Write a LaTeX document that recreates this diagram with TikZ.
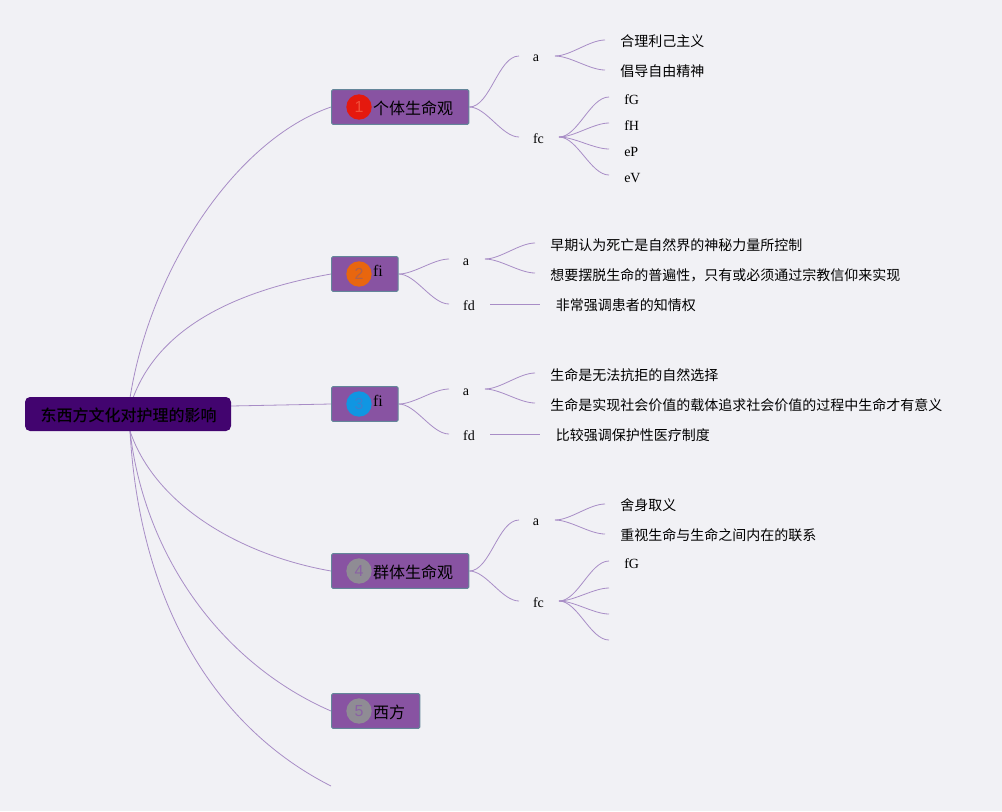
\documentclass[tikz,border=0pt]{standalone}
\usepackage{fontspec}
\setmainfont{Liberation Serif}
\newfontfamily\cjk{Noto Sans CJK SC}
\newfontfamily\cjkb{Noto Sans CJK SC Medium}
\newfontfamily\numf{Liberation Sans}
\usetikzlibrary{backgrounds}
\definecolor{bgc}{HTML}{F1F1F5}
\definecolor{lnk}{HTML}{A88DC6}
\definecolor{boxf}{HTML}{8853A2}
\definecolor{boxd}{HTML}{64869A}
\definecolor{rootf}{HTML}{42046F}
\definecolor{cr}{HTML}{E5190E}\definecolor{cr2}{HTML}{F0503A}
\definecolor{co}{HTML}{E8660E}\definecolor{co2}{HTML}{B0604A}
\definecolor{cb}{HTML}{1096E2}\definecolor{cb2}{HTML}{3A80D0}
\definecolor{cg}{HTML}{8F8C94}\definecolor{cg2}{HTML}{8A62A4}
\tikzset{
  x=0.75pt,y=-0.75pt,
  lnkline/.style={draw=lnk,line width=0.6pt},
  fork/.style={lnkline,out=0,in=180,looseness=0.75},
  topicbox/.style={draw=boxd,fill=boxf,line width=0.75pt,rounded corners=1pt,minimum height=26pt,inner sep=0pt,anchor=west},
  badge/.style={circle,minimum size=19pt,inner sep=0pt,font=\numf\fontsize{12pt}{12pt}\selectfont},
  big/.style={inner sep=0pt,font=\cjk\fontsize{12pt}{14pt}\selectfont,text=black},
  small/.style={inner sep=0pt,font=\cjk\fontsize{10.5pt}{12pt}\selectfont,text=black,anchor=west},
  latin/.style={inner sep=0pt,font=\fontsize{10.5pt}{12pt}\selectfont,text=black},
  big latin/.style={inner sep=0pt,font=\fontsize{12pt}{14pt}\selectfont,text=black},
}
\begin{document}
\begin{tikzpicture}
\useasboundingbox (0,0) rectangle (1002,811);
% root
\node[fill=rootf,rounded corners=3.75pt,minimum width=154.5pt,minimum height=25.5pt,inner sep=0pt] (root) at (128,414) {};
\node[inner sep=0pt,font=\cjkb\fontsize{12pt}{14pt}\selectfont,text=black] (roott) at (128.5,415) {东西方文化对护理的影响};
\coordinate (rootup) at (130,398);
\coordinate (rootup2) at (133,398);
\coordinate (rootdn) at (130,431);
\coordinate (rootrt) at (231,406);
% topics
\node[topicbox,minimum width=103pt] (t1) at (331,107) {};
\node[topicbox,minimum width=50pt] (t2) at (331,274) {};
\node[topicbox,minimum width=50pt] (t3) at (331,404) {};
\node[topicbox,minimum width=103pt] (t4) at (331,571) {};
\node[topicbox,minimum width=66.25pt] (t5) at (331,711) {};
\coordinate (t6) at (331,786);
\node[badge,fill=cr,text=cr2] (b1) at (359,107) {1};
\node[badge,fill=co,text=co2] (b2) at (359,274) {2};
\node[badge,fill=cb,text=cb2] (b3) at (359,404) {3};
\node[badge,fill=cg,text=cg2] (b4) at (359,571) {4};
\node[badge,fill=cg,text=cg2] (b5) at (359,711) {5};
\node[big] (l1) at (413,108) {个体生命观};
\node[big latin] (l2) at (378,271) {fi};
\node[big latin] (l3) at (378,401) {fi};
\node[big] (l4) at (413,572) {群体生命观};
\node[big] (l5) at (389,712) {西方};
% mid nodes
\node[latin] (a1) at (536,58) {a};
\node[latin] (c1) at (538.5,139) {fc};
\node[latin] (a2) at (466,262) {a};
\node[latin] (d2) at (469,306) {fd};
\node[latin] (a3) at (466,392) {a};
\node[latin] (d3) at (469,436) {fd};
\node[latin] (a4) at (536,522) {a};
\node[latin] (c4) at (538.5,603) {fc};
\coordinate (a1i) at (519,56);\coordinate (a1o) at (555,56);
\coordinate (c1i) at (519,137);\coordinate (c1o) at (559,137);
\coordinate (a2i) at (449,259);\coordinate (a2o) at (485,259);
\coordinate (d2i) at (449,304);\coordinate (d2o) at (490,304);
\coordinate (a3i) at (449,389);\coordinate (a3o) at (485,389);
\coordinate (d3i) at (449,434);\coordinate (d3o) at (490,434);
\coordinate (a4i) at (519,520);\coordinate (a4o) at (555,520);
\coordinate (c4i) at (519,601);\coordinate (c4o) at (559,601);
% leaves
\node[small] (x11) at (620,41) {合理利己主义};
\node[small] (x12) at (620,71) {倡导自由精神};
\node[latin,anchor=west] (x13) at (624,100) {fG};
\node[latin,anchor=west] (x14) at (624,126) {fH};
\node[latin,anchor=west] (x15) at (624,152) {eP};
\node[latin,anchor=west] (x16) at (624,178) {eV};
\node[small] (x21) at (550,245) {早期认为死亡是自然界的神秘力量所控制};
\node[small] (x22) at (550,275) {想要摆脱生命的普遍性，只有或必须通过宗教信仰来实现};
\node[small] (x23) at (555.5,305) {非常强调患者的知情权};
\node[small] (x31) at (550,375) {生命是无法抗拒的自然选择};
\node[small] (x32) at (550,405) {生命是实现社会价值的载体追求社会价值的过程中生命才有意义};
\node[small] (x33) at (555.5,435) {比较强调保护性医疗制度};
\node[small] (x41) at (620,505) {舍身取义};
\node[small] (x42) at (620,535) {重视生命与生命之间内在的联系};
\node[latin,anchor=west] (x43) at (624,564) {fG};
% free ends of the leaf connectors
\coordinate (e11) at (605,40);\coordinate (e12) at (605,70);
\coordinate (e13) at (609,97);\coordinate (e14) at (609,123);\coordinate (e15) at (609,149);\coordinate (e16) at (609,175);
\coordinate (e21) at (535,243);\coordinate (e22) at (535,273);\coordinate (e23) at (540,304);
\coordinate (e31) at (535,373);\coordinate (e32) at (535,403);\coordinate (e33) at (540,434);
\coordinate (e41) at (605,504);\coordinate (e42) at (605,534);
\coordinate (e43) at (609,561);\coordinate (e44) at (609,588);\coordinate (e45) at (609,614);\coordinate (e46) at (609,640);
\begin{scope}[on background layer]
\fill[bgc] (0,0) rectangle (1002,811);
\draw[lnkline] (rootup) .. controls (150,270) and (235,140) .. (t1.west);
\draw[lnkline] (rootup2) .. controls (160,325) and (240,290) .. (t2.west);
\draw[lnkline] (rootrt) -- (t3.west);
\draw[lnkline] (rootdn) .. controls (155,505) and (240,555) .. (t4.west);
\draw[lnkline] (rootdn) .. controls (145,560) and (225,665) .. (t5.west);
\draw[lnkline] (rootdn) .. controls (140,610) and (220,730) .. (t6);
\foreach \tp/\ai/\ci in {t1/a1i/c1i,t2/a2i/d2i,t3/a3i/d3i,t4/a4i/c4i}{
  \draw[fork] (\tp.east) to (\ai);
  \draw[fork] (\tp.east) to (\ci);
}
\foreach \src/\dst in {a1o/e11,a1o/e12,c1o/e13,c1o/e14,c1o/e15,c1o/e16,a2o/e21,a2o/e22,a3o/e31,a3o/e32,a4o/e41,a4o/e42,c4o/e43,c4o/e44,c4o/e45,c4o/e46}{
  \draw[fork] (\src) to (\dst);
}
\draw[lnkline] (d2o) -- (e23);
\draw[lnkline] (d3o) -- (e33);
\end{scope}
\end{tikzpicture}
\end{document}
